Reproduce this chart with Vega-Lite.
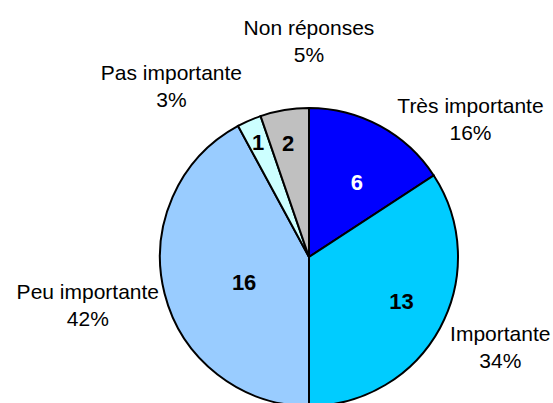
{
  "$schema": "https://vega.github.io/schema/vega-lite/v6.json",
  "width": 488,
  "height": 292,
  "autosize": {"type": "none"},
  "padding": {"left": 65, "top": 111, "right": 0, "bottom": 0},
  "background": "white",
  "config": {"view": {"stroke": null}},
  "data": {
    "values": [
      {"category": "Très importante", "value": 6, "order": 1, "label": "Très importante\n16%"},
      {"category": "Importante", "value": 13, "order": 2, "label": "Importante\n34%"},
      {"category": "Peu importante", "value": 16, "order": 3, "label": "Peu importante\n42%"},
      {"category": "Pas importante", "value": 1, "order": 4, "label": "Pas importante\n3%"},
      {"category": "Non réponses", "value": 2, "order": 5, "label": "Non réponses\n5%"}
    ]
  },
  "encoding": {
    "theta": {"field": "value", "type": "quantitative", "stack": true},
    "order": {"field": "order", "type": "quantitative"},
    "detail": {"field": "category", "type": "nominal"}
  },
  "layer": [
    {
      "mark": {"type": "arc", "outerRadius": 149, "stroke": "black", "strokeWidth": 2},
      "encoding": {
        "color": {
          "field": "category", "type": "nominal", "legend": null,
          "scale": {
            "domain": ["Très importante", "Importante", "Peu importante", "Pas importante", "Non réponses"],
            "range": ["#0000FF", "#00CCFF", "#99CCFF", "#CCFFFF", "#C0C0C0"]
          }
        }
      }
    },
    {
      "mark": {"type": "text", "radius": 209, "align": "center", "baseline": "middle", "fontSize": 21, "font": "Liberation Sans", "lineHeight": 27, "lineBreak": "\n", "dx": 62, "dy": 34, "color": "black"},
      "encoding": {"text": {"condition": {"test": "datum.category === 'Très importante'", "field": "label", "type": "nominal"}, "value": ""}}
    },
    {
      "mark": {"type": "text", "radius": 205, "align": "center", "baseline": "middle", "fontSize": 21, "font": "Liberation Sans", "lineHeight": 27, "lineBreak": "\n", "dx": 11, "dy": -20, "color": "black"},
      "encoding": {"text": {"condition": {"test": "datum.category === 'Importante'", "field": "label", "type": "nominal"}, "value": ""}}
    },
    {
      "mark": {"type": "text", "radius": 223, "align": "center", "baseline": "middle", "fontSize": 21, "font": "Liberation Sans", "lineHeight": 27, "lineBreak": "\n", "dx": -5, "dy": -19, "color": "black"},
      "encoding": {"text": {"condition": {"test": "datum.category === 'Peu importante'", "field": "label", "type": "nominal"}, "value": ""}}
    },
    {
      "mark": {"type": "text", "radius": 223, "align": "center", "baseline": "middle", "fontSize": 21, "font": "Liberation Sans", "lineHeight": 27, "lineBreak": "\n", "dx": -48, "dy": 21, "color": "black"},
      "encoding": {"text": {"condition": {"test": "datum.category === 'Pas importante'", "field": "label", "type": "nominal"}, "value": ""}}
    },
    {
      "mark": {"type": "text", "radius": 225, "align": "center", "baseline": "middle", "fontSize": 21, "font": "Liberation Sans", "lineHeight": 27, "lineBreak": "\n", "dx": 37, "dy": -6, "color": "black"},
      "encoding": {"text": {"condition": {"test": "datum.category === 'Non réponses'", "field": "label", "type": "nominal"}, "value": ""}}
    },
    {
      "mark": {"type": "text", "radius": 88, "align": "center", "baseline": "middle", "fontSize": 22, "fontWeight": "bold", "font": "Liberation Sans", "dx": 6, "dy": 3, "color": "white"},
      "encoding": {"text": {"condition": {"test": "datum.category === 'Très importante'", "field": "value", "type": "quantitative"}, "value": ""}}
    },
    {
      "mark": {"type": "text", "radius": 103, "align": "center", "baseline": "middle", "fontSize": 22, "fontWeight": "bold", "font": "Liberation Sans", "dx": 2, "dy": -4, "color": "black"},
      "encoding": {"text": {"condition": {"test": "datum.category === 'Importante'", "field": "value", "type": "quantitative"}, "value": ""}}
    },
    {
      "mark": {"type": "text", "radius": 69, "align": "center", "baseline": "middle", "fontSize": 22, "fontWeight": "bold", "font": "Liberation Sans", "dx": 2, "dy": 9, "color": "black"},
      "encoding": {"text": {"condition": {"test": "datum.category === 'Peu importante'", "field": "value", "type": "quantitative"}, "value": ""}}
    },
    {
      "mark": {"type": "text", "radius": 124, "align": "center", "baseline": "middle", "fontSize": 22, "fontWeight": "bold", "font": "Liberation Sans", "dx": -1, "dy": 0, "color": "black"},
      "encoding": {"text": {"condition": {"test": "datum.category === 'Pas importante'", "field": "value", "type": "quantitative"}, "value": ""}}
    },
    {
      "mark": {"type": "text", "radius": 115, "align": "center", "baseline": "middle", "fontSize": 22, "fontWeight": "bold", "font": "Liberation Sans", "dx": -2, "dy": 0, "color": "black"},
      "encoding": {"text": {"condition": {"test": "datum.category === 'Non réponses'", "field": "value", "type": "quantitative"}, "value": ""}}
    }
  ]
}
